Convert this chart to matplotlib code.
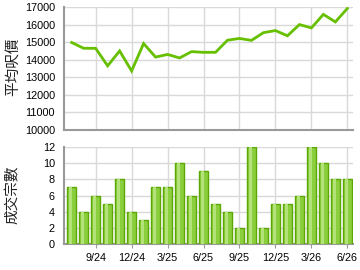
import matplotlib
matplotlib.use("Agg")
import matplotlib.pyplot as plt
import numpy as np

months = ["7/24","8/24","9/24","10/24","11/24","12/24","1/25","2/25","3/25","4/25","5/25","6/25",
          "7/25","8/25","9/25","10/25","11/25","12/25","1/26","2/26","3/26","4/26","5/26","6/26"]
avg_price = [14980, 14650, 14650, 13650, 14500, 13360, 14920, 14150, 14300, 14100, 14460, 14420,
             14420, 15110, 15210, 15100, 15540, 15660, 15360, 16000, 15810, 16580, 16150, 16920]
volume = [7, 4, 6, 5, 8, 4, 3, 7, 7, 10, 6, 9, 5, 4, 2, 12, 2, 5, 5, 6, 12, 10, 8, 8]
tick_idx = [2, 5, 8, 11, 14, 17, 20, 23]
tick_labels = [months[i] for i in tick_idx]

plt.rcParams['font.family'] = ['Liberation Sans', 'DejaVu Sans']
cjk = ['Noto Sans CJK TC', 'DejaVu Sans']

fig = plt.figure(figsize=(3.6, 2.7), dpi=100)
W, H = 360, 270
def rect(l, t, r, b):
    return [l / W, 1 - b / H, (r - l) / W, (b - t) / H]

ax1 = fig.add_axes(rect(64, 7, 353, 130))
ax2 = fig.add_axes(rect(64, 147, 353, 244))

x = np.arange(len(months))
grid_c = '#d9d9d9'
spine_c = '#999999'

for ax in (ax1, ax2):
    ax.set_xlim(-0.64, 23.47)
    ax.set_xticks(tick_idx)
    ax.grid(True, color=grid_c, linewidth=1.0)
    ax.set_axisbelow(True)
    for s in ('top', 'right'):
        ax.spines[s].set_visible(False)
    for s in ('left', 'bottom'):
        ax.spines[s].set_color(spine_c)
        ax.spines[s].set_linewidth(1.5)
    ax.tick_params(axis='y', length=0, pad=6.5, labelsize=7.8, colors='#000000')
    ax.tick_params(axis='x', length=3, color=spine_c, pad=3.5, labelsize=7.8)

# Top: line
ax1.plot(x, avg_price, color='#66c000', linewidth=2.0, solid_joinstyle='miter')
ax1.set_ylim(10000, 17000)
ax1.set_yticks(range(10000, 17001, 1000))
ax1.tick_params(axis='x', labelbottom=False, length=0)

# Bottom: bars
ax2.bar(x, volume, width=0.72, color='#8ccf3e', edgecolor='#5aa800', linewidth=1.0, zorder=3)
ax2.bar(x - 0.08, volume, width=0.22, color='#b4e27a', linewidth=0, zorder=4)
ax2.set_ylim(0, 12)
ax2.set_yticks(range(0, 13, 2))
ax2.set_xticklabels(tick_labels)

fig.text(13 / W, 1 - 67 / H, '平均呎價', family=cjk, fontsize=10.5, rotation=90,
         ha='center', va='center', color='#222222')
fig.text(13 / W, 1 - 195 / H, '成交宗數', family=cjk, fontsize=10.5, rotation=90,
         ha='center', va='center', color='#222222')

fig.savefig('out.png', dpi=100)
